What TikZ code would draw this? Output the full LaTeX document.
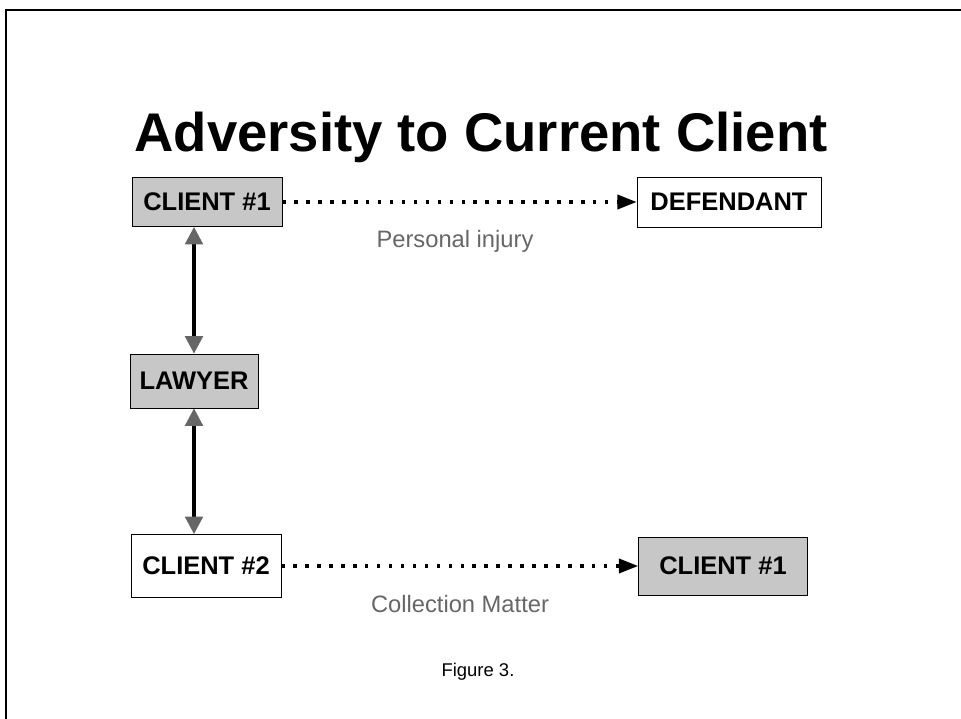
\documentclass[tikz,border=0pt]{standalone}
\usepackage{fontspec}
\setmainfont{Liberation Sans}
\usetikzlibrary{positioning,arrows.meta}

\begin{document}
\begin{tikzpicture}[x=0.02cm,y=-0.02cm,
  party node/.style={draw,rectangle,inner sep=0pt,font=\fontsize{14.5}{16}\selectfont\bfseries},
  shaded/.style={fill=black!22},
  link/.style={line width=2pt,dash pattern=on 2pt off 4.8pt,-{Triangle[length=11pt,width=8pt]}},
  tie/.style={line width=2pt,{Triangle[length=10pt,width=10pt,color=black!60]}-{Triangle[length=10pt,width=10pt,color=black!60]}},
  note/.style={text=black!60,font=\fontsize{13.5}{15}\selectfont}]
  \useasboundingbox (0,0) rectangle (961,719);
  \draw[line width=1.2pt] (6,719) -- (6,10) -- (961,10);

  \node[anchor=base,font=\fontsize{31}{36}\selectfont\bfseries] (title) at (481,152) {Adversity to Current Client};

  \node[party node,shaded,minimum width=3cm,minimum height=0.98cm] (c1) at (207,202) {CLIENT \#1};
  \node[party node,minimum width=3.68cm,minimum height=1cm] (def) at (729,202) {DEFENDANT};
  \node[party node,shaded,minimum width=2.56cm,minimum height=1.08cm] (lawyer) at (194,381) {LAWYER};
  \node[party node,minimum width=3cm,minimum height=1.26cm] (c2) at (206,566) {CLIENT \#2};
  \node[party node,shaded,minimum width=3.38cm,minimum height=1.16cm] (c1b) at (723,566) {CLIENT \#1};

  \node[note] (injury) at (455,241) {Personal injury};
  \node[note] (collection) at (460,604) {Collection Matter};
  \node[font=\fontsize{10.5}{13}\selectfont] (fig) at (478,672) {Figure 3.};

  \draw[link] (c1) -- (def);
  \draw[link] (c2) -- (c1b);
  \draw[tie] (c1.south -| lawyer) -- (lawyer);
  \draw[tie] (lawyer) -- (c2.north -| lawyer);
\end{tikzpicture}
\end{document}
